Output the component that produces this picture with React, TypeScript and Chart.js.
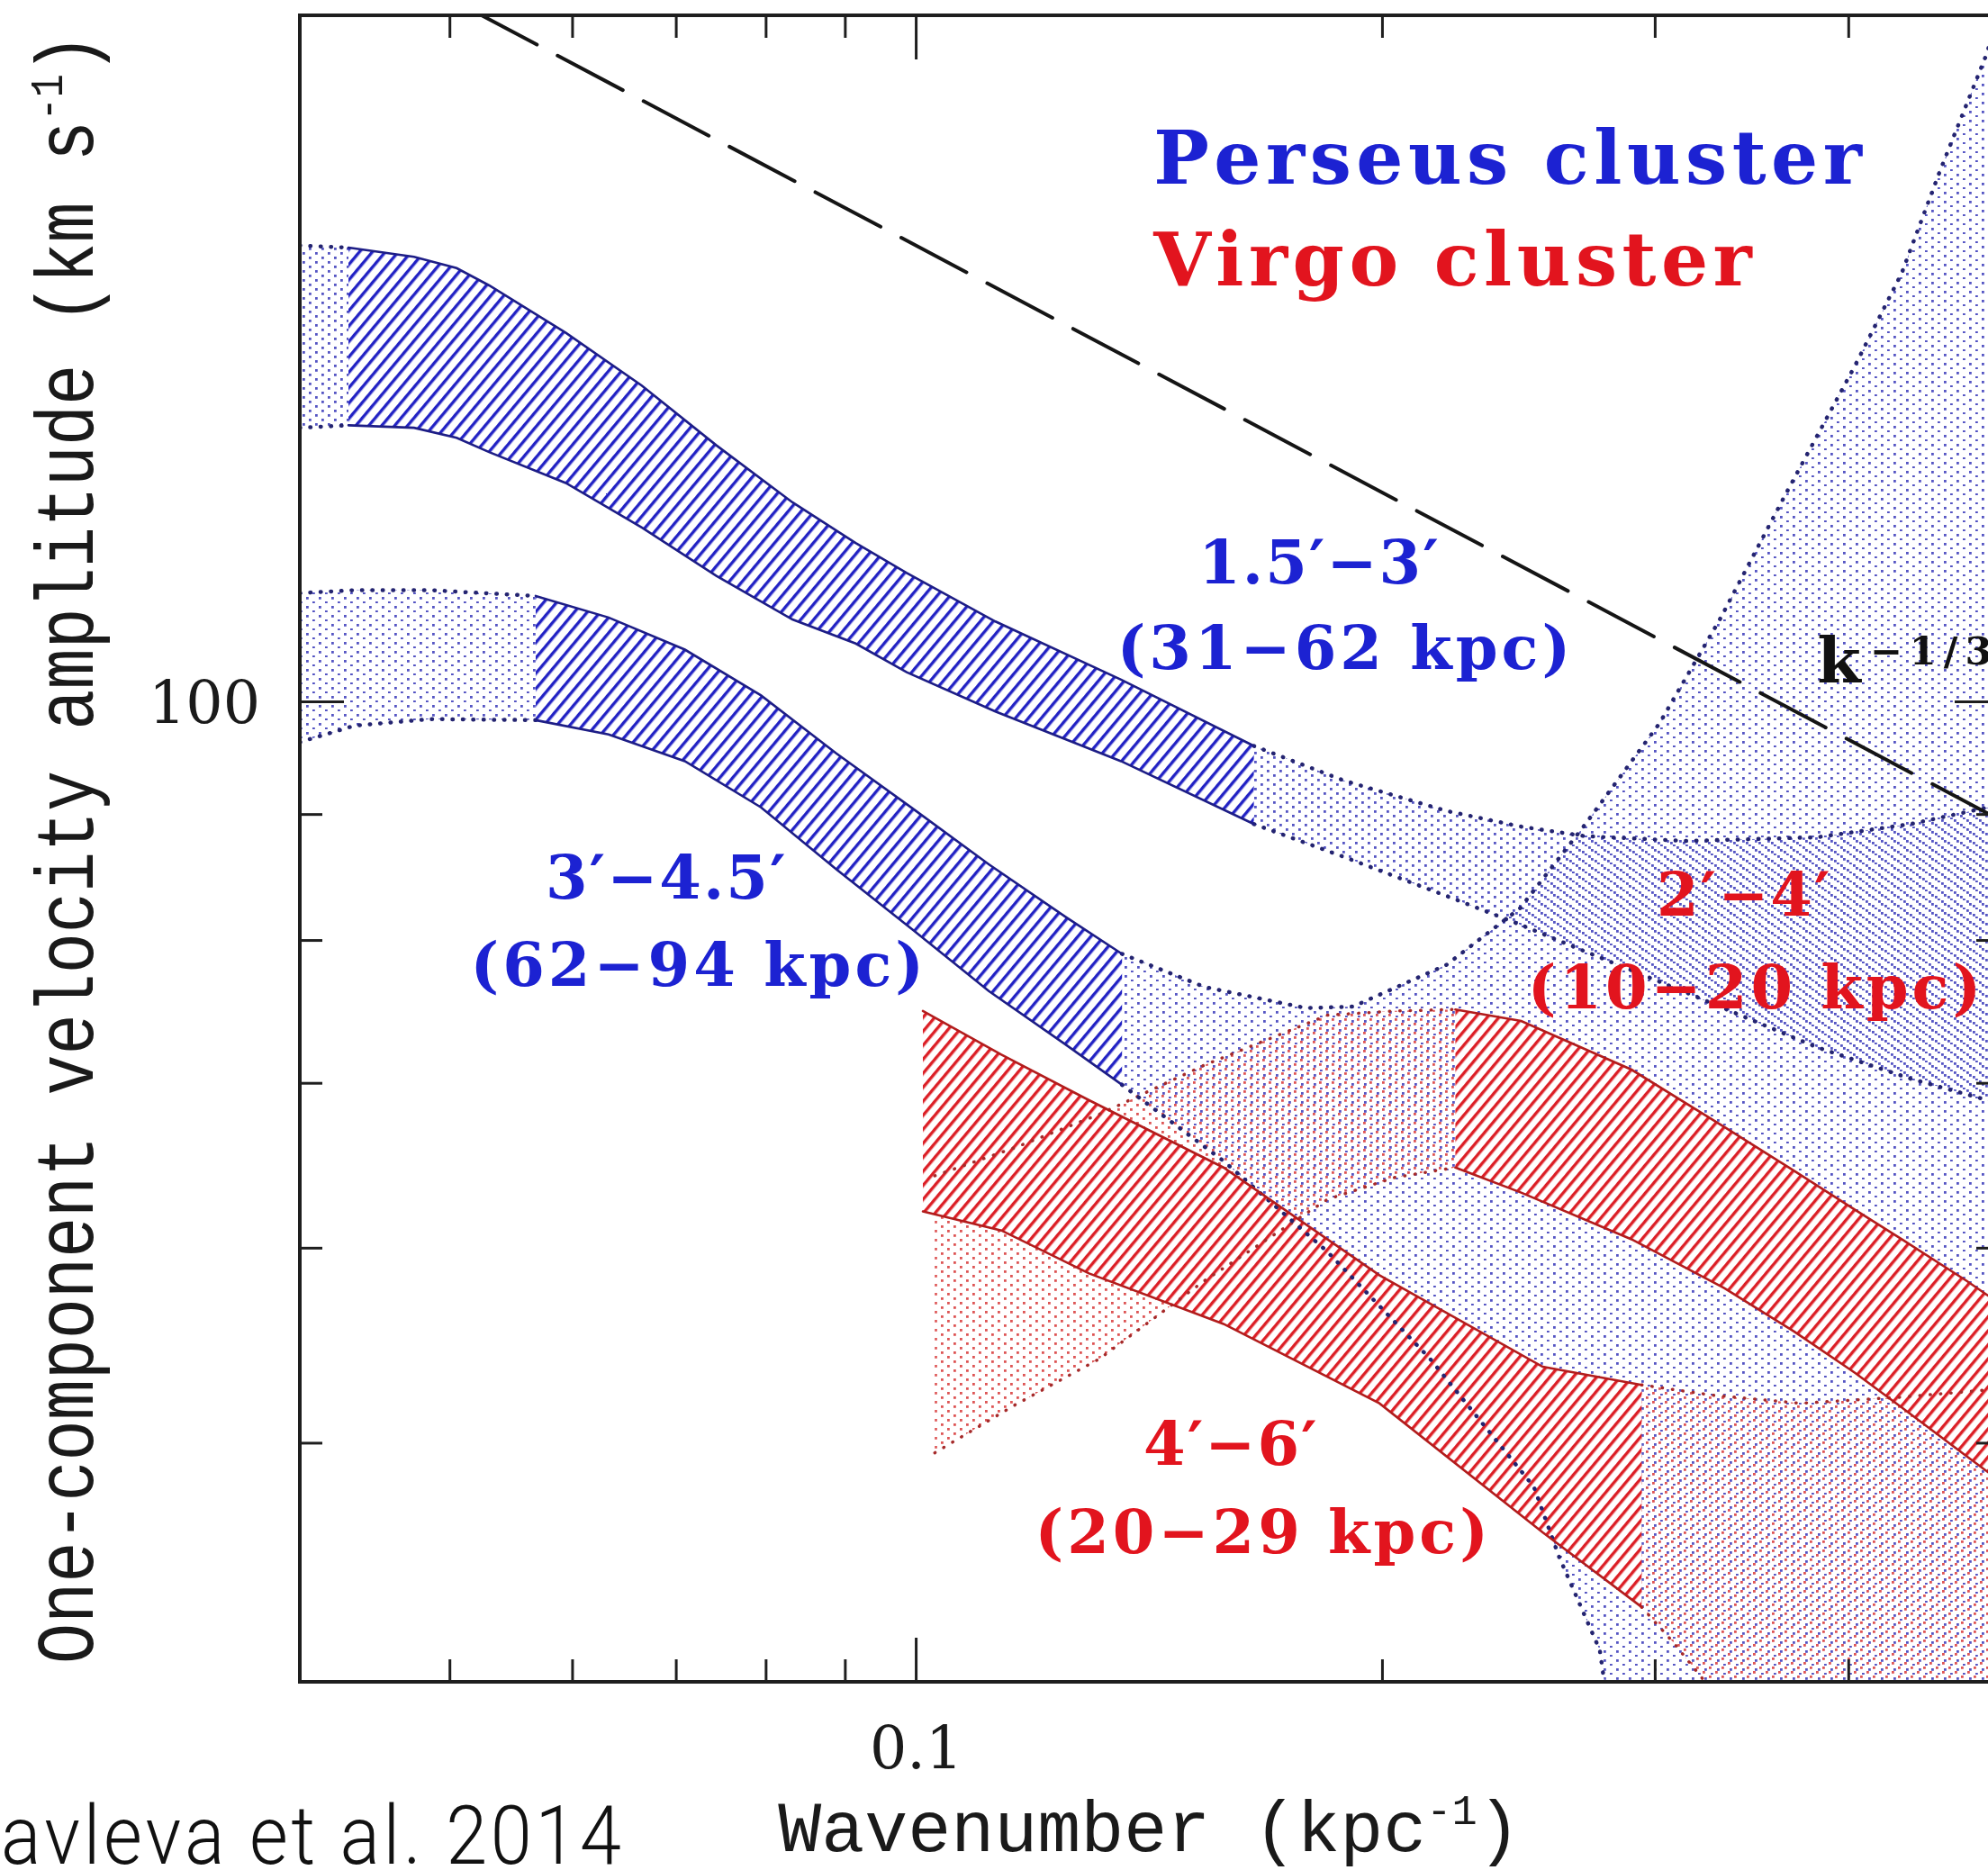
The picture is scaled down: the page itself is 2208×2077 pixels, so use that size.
import React, { useEffect, useRef } from 'react';
import { Chart, registerables } from 'chart.js';

Chart.register(...registerables);

// ---------- axes ----------
const X_MIN = 0.04;
const X_MAX = 0.5;
const Y_MIN = 40;
const Y_MAX = 190;
const xMinorTicks = [0.05, 0.06, 0.07, 0.08, 0.09, 0.2, 0.3, 0.4];
const xMajorTicks = [0.1];
const yMinorTicks = [50, 60, 70, 80, 90];
const yMajorTicks = [100];
const xTickLabels = ['0.1'];
const yTickLabels = ['100'];

// ---------- Perseus 1.5'-3' (31-62 kpc) ----------
const pAHatchX = [0.043, 0.0474, 0.0505, 0.053, 0.0594, 0.0665, 0.0743, 0.0832, 0.0914, 0.0986, 0.1125, 0.1356, 0.1652];
const pAHatchHi = [152.9, 151.6, 150.0, 147.6, 141.2, 134.4, 127.1, 120.5, 116.0, 112.8, 107.8, 102.1, 95.96];
const pAHatchLo = [129.5, 129.2, 128.0, 126.3, 122.7, 117.7, 112.5, 108.0, 105.6, 102.8, 99.1, 94.6, 89.2];
const pALeftX = [0.04, 0.043];
const pALeftHi = [153.2, 152.9];
const pALeftLo = [129.2, 129.5];
const pARightX = [0.1652, 0.1889, 0.22, 0.2454, 0.2701, 0.3141, 0.3815, 0.4386, 0.5];
const pARightHi = [95.96, 92.9, 90.3, 89.0, 88.2, 87.8, 88.1, 89.2, 90.8];
const pARightLo = [89.2, 86.5, 83.4, 81.2, 79.2, 76.2, 72.4, 70.3, 68.7];

// ---------- Perseus 3'-4.5' (62-94 kpc) ----------
const pBLeftX = [0.04, 0.0434, 0.0486, 0.0568];
const pBLeftHi = [110.7, 111.0, 111.0, 110.4];
const pBLeftLo = [96.3, 97.8, 98.4, 98.3];
const pBHatchX = [0.0568, 0.0633, 0.0709, 0.0794, 0.0888, 0.0995, 0.1114, 0.1248, 0.1358];
const pBHatchHi = [110.4, 108.2, 105.0, 100.6, 95.3, 90.5, 85.9, 81.8, 79.0];
const pBHatchLo = [98.3, 97.0, 94.6, 90.6, 85.5, 80.8, 76.3, 72.6, 69.9];
const pBRightHiX = [0.1358, 0.1535, 0.1785, 0.1914, 0.22, 0.2454, 0.2701, 0.3019, 0.3305, 0.3639, 0.4037, 0.4328, 0.458, 0.492, 0.5];
const pBRightHi = [79.0, 76.6, 75.1, 75.2, 78.2, 82.45, 89.1, 98.0, 108.1, 121.3, 136.9, 149.3, 164.2, 183.8, 195];
const pBRightLoX = [0.1358, 0.1579, 0.1843, 0.2147, 0.2505, 0.2601, 0.2763, 0.2807];
const pBRightLo = [69.9, 65.1, 59.8, 54.1, 48.0, 44.95, 41.2, 38.4];

// ---------- Virgo 4'-6' (20-29 kpc) ----------
const vCHatchX = [0.101, 0.1135, 0.1293, 0.1579, 0.1991, 0.2538, 0.294];
const vCHatchHi = [74.9, 71.9, 68.9, 64.7, 58.5, 53.7, 52.8];
const vCHatchLo = [62.1, 61.0, 58.6, 55.9, 51.9, 46.0, 42.9];
const vCRightHiX = [0.294, 0.3262, 0.3723, 0.4328, 0.5];
const vCRightHi = [52.8, 52.3, 51.9, 52.2, 52.6];
const vCRightLoX = [0.294, 0.3082, 0.3231, 0.3355];
const vCRightLo = [42.9, 41.5, 40.0, 38.7];

// ---------- Virgo 2'-4' (10-20 kpc) ----------
const vDLeftX = [0.1028, 0.1157, 0.1313, 0.1535, 0.1843, 0.2037, 0.2229];
const vDLeftHi = [64.2, 65.9, 68.0, 71.2, 74.6, 74.9, 75.0];
const vDLeftLo = [49.55, 51.8, 54.1, 58.2, 62.8, 64.1, 64.7];
const vDHatchX = [0.2229, 0.2458, 0.2896, 0.3324, 0.3688, 0.4037, 0.4328, 0.4765, 0.5];
const vDHatchHi = [75.0, 74.2, 70.9, 67.2, 64.5, 62.2, 60.5, 58.2, 57.0];
const vDHatchLo = [64.7, 63.2, 60.5, 57.8, 55.5, 53.4, 51.7, 49.4, 48.3];

// ---------- k^-1/3 reference line ----------
const kLineX = [0.04, 0.5];
const kLineY = [207.9, 89.6];

// ---------- colours ----------
const BLUE_TEXT = '#1c22d2';
const RED_TEXT = '#e2141e';
const BLUE_LINE = '#1d1d86';
const RED_LINE = '#b21c1c';
const BLUE_DOT = '#242470';
const RED_DOT = '#a52a2a';

type Anno = { text: string; x: number; y: number; color: string; size: number; ls: number; align: 'left' | 'center' | 'right' };
const annotations: Anno[] = [
  { text: 'Perseus cluster', x: 0.1423, y: 162.3, color: BLUE_TEXT, size: 82, ls: 5.5, align: 'left' },
  { text: 'Virgo cluster', x: 0.1423, y: 147.6, color: RED_TEXT, size: 82, ls: 5.5, align: 'left' },
  { text: '1.5\u2032\u22123\u2032', x: 0.1819, y: 111.7, color: BLUE_TEXT, size: 67, ls: 2, align: 'center' },
  { text: '(31\u221262 kpc)', x: 0.1888, y: 103.1, color: BLUE_TEXT, size: 67, ls: 4, align: 'center' },
  { text: '3\u2032\u22124.5\u2032', x: 0.0689, y: 83.2, color: BLUE_TEXT, size: 67, ls: 2, align: 'center' },
  { text: '(62\u221294 kpc)', x: 0.0722, y: 76.7, color: BLUE_TEXT, size: 67, ls: 4, align: 'center' },
  { text: '2\u2032\u22124\u2032', x: 0.342, y: 81.9, color: RED_TEXT, size: 67, ls: 2, align: 'center' },
  { text: '(10\u221220 kpc)', x: 0.3476, y: 75.1, color: RED_TEXT, size: 67, ls: 4, align: 'center' },
  { text: '4\u2032\u22126\u2032', x: 0.1595, y: 49.0, color: RED_TEXT, size: 67, ls: 2, align: 'center' },
  { text: '(20\u221229 kpc)', x: 0.1671, y: 45.1, color: RED_TEXT, size: 67, ls: 4, align: 'center' },
];

const CANVAS_W = 2240;
const CANVAS_H = 2077;

type Seg = { t: string; size: number; rise?: number };

function drawRich(
  ctx: CanvasRenderingContext2D,
  segs: Seg[],
  family: string,
  weight: string,
  x: number,
  y: number,
  align: 'left' | 'center' | 'right',
  color: string,
  sx = 1,
) {
  let total = 0;
  const widths = segs.map((s) => {
    ctx.font = `${weight} ${s.size}px ${family}`;
    const w = ctx.measureText(s.t).width;
    total += w;
    return w;
  });
  ctx.save();
  ctx.translate(x, y);
  ctx.scale(sx, 1);
  let cx = align === 'left' ? 0 : align === 'center' ? -total / 2 : -total;
  ctx.fillStyle = color;
  ctx.textAlign = 'left';
  ctx.textBaseline = 'alphabetic';
  segs.forEach((s, i) => {
    ctx.font = `${weight} ${s.size}px ${family}`;
    ctx.fillText(s.t, cx, -(s.rise || 0));
    cx += widths[i];
  });
  ctx.restore();
}

// text with extra letter spacing, drawn glyph by glyph
function drawSpaced(
  ctx: CanvasRenderingContext2D,
  text: string,
  font: string,
  x: number,
  y: number,
  ls: number,
  align: 'left' | 'center' | 'right',
  color: string,
  sx = 1,
) {
  ctx.save();
  ctx.font = font;
  const chars = Array.from(text);
  const ws = chars.map((c) => ctx.measureText(c).width);
  const total = ws.reduce((s, w) => s + w, 0) + ls * (chars.length - 1);
  ctx.translate(x, y);
  ctx.scale(sx, 1);
  let cx = align === 'left' ? 0 : align === 'center' ? -total / 2 : -total;
  ctx.fillStyle = color;
  ctx.textAlign = 'left';
  ctx.textBaseline = 'alphabetic';
  chars.forEach((c, i) => {
    ctx.fillText(c, cx, 0);
    cx += ws[i] + ls;
  });
  ctx.restore();
}

function makeStipple(color: string, ox: number, oy: number, size = 2.8): CanvasPattern {
  const c = document.createElement('canvas');
  c.width = 14;
  c.height = 10;
  const g = c.getContext('2d')!;
  g.fillStyle = color;
  g.fillRect(ox, oy, size, size);
  g.fillRect((ox + 7) % 14, (oy + 5) % 10, size, size);
  return g.createPattern(c, 'repeat')!;
}

function makeHatch(color: string, spacing: number, lw: number, angleDeg: number): CanvasPattern {
  const c = document.createElement('canvas');
  c.width = 16;
  c.height = spacing;
  const g = c.getContext('2d')!;
  g.fillStyle = '#ffffff';
  g.fillRect(0, 0, 16, spacing);
  g.fillStyle = color;
  g.fillRect(0, 0, 16, lw);
  const p = g.createPattern(c, 'repeat')!;
  p.setTransform(new DOMMatrix().rotate(angleDeg));
  return p;
}

const pts = (xs: number[], ys: number[]) => xs.map((x, i) => ({ x, y: ys[i] }));

function band(xs: number[], hi: number[], lo: number[]) {
  return [...pts(xs, hi), ...pts(xs, lo).reverse()];
}

function openBand(hx: number[], hi: number[], lx: number[], lo: number[]) {
  // closes along the right edge / below the bottom edge of the plot
  return [...pts(hx, hi), { x: X_MAX, y: Y_MIN * 0.9 }, ...pts(lx, lo).reverse()];
}

export default function App() {
  const ref = useRef<HTMLCanvasElement>(null);

  useEffect(() => {
    document.body.style.margin = '0';
    document.body.style.overflow = 'hidden';
    const canvas = ref.current!;

    const BST = 'rgba(55,55,185,0.85)';
    const RST = 'rgba(215,55,55,0.85)';
    const blueSt1 = makeStipple(BST, 0, 0);
    const blueSt2 = makeStipple(BST, 4, 3);
    const blueSt3 = makeStipple(BST, 10, 8);
    const redSt1 = makeStipple(RST, 2, 6);
    const redSt2 = makeStipple(RST, 8, 1);
    const blueHatch = makeHatch('#2222c4', 11, 3.4, -50);
    const redHatch = makeHatch('#dc1f26', 10.5, 3.4, -50);

    const fillDs = (data: any[], bg: any, order: number) => ({
      data,
      fill: 'shape',
      backgroundColor: bg,
      borderColor: 'rgba(0,0,0,0)',
      borderWidth: 1,
      pointRadius: 0,
      tension: 0,
      order,
    });
    const edge = (xs: number[], ys: number[], color: string, width: number, dash: number[], order: number) => ({
      data: pts(xs, ys),
      fill: false,
      borderColor: color,
      borderWidth: width,
      borderDash: dash,
      borderCapStyle: 'round',
      pointRadius: 0,
      tension: 0,
      order,
    });
    const DOTS = [0.5, 11];
    const SOLID: number[] = [];

    const datasets: any[] = [
      // stipple (unreliable) ranges
      fillDs(band(pALeftX, pALeftHi, pALeftLo), blueSt1, 100),
      fillDs(band(pARightX, pARightHi, pARightLo), blueSt1, 100),
      fillDs(band(pBLeftX, pBLeftHi, pBLeftLo), blueSt2, 100),
      fillDs(openBand(pBRightHiX, pBRightHi, pBRightLoX, pBRightLo), blueSt3, 100),
      fillDs(band(vDLeftX, vDLeftHi, vDLeftLo), redSt1, 100),
      fillDs(openBand(vCRightHiX, vCRightHi, vCRightLoX, vCRightLo), redSt2, 100),
      // hatched (reliable) ranges
      fillDs(band(pAHatchX, pAHatchHi, pAHatchLo), blueHatch, 50),
      fillDs(band(pBHatchX, pBHatchHi, pBHatchLo), blueHatch, 50),
      fillDs(band(vCHatchX, vCHatchHi, vCHatchLo), redHatch, 50),
      fillDs(band(vDHatchX, vDHatchHi, vDHatchLo), redHatch, 50),
      // solid edges
      edge(pAHatchX, pAHatchHi, BLUE_LINE, 2.6, SOLID, 10),
      edge(pAHatchX, pAHatchLo, BLUE_LINE, 2.6, SOLID, 10),
      edge(pBHatchX, pBHatchHi, BLUE_LINE, 2.6, SOLID, 10),
      edge(pBHatchX, pBHatchLo, BLUE_LINE, 2.6, SOLID, 10),
      edge(vCHatchX, vCHatchHi, RED_LINE, 2.6, SOLID, 10),
      edge(vCHatchX, vCHatchLo, RED_LINE, 2.6, SOLID, 10),
      edge(vDHatchX, vDHatchHi, RED_LINE, 2.6, SOLID, 10),
      edge(vDHatchX, vDHatchLo, RED_LINE, 2.6, SOLID, 10),
      // dotted edges
      edge(pALeftX, pALeftHi, BLUE_DOT, 4.5, DOTS, 10),
      edge(pALeftX, pALeftLo, BLUE_DOT, 4.5, DOTS, 10),
      edge(pARightX, pARightHi, BLUE_DOT, 4.5, DOTS, 10),
      edge(pARightX, pARightLo, BLUE_DOT, 4.5, DOTS, 10),
      edge(pBLeftX, pBLeftHi, BLUE_DOT, 4.5, DOTS, 10),
      edge(pBLeftX, pBLeftLo, BLUE_DOT, 4.5, DOTS, 10),
      edge(pBRightHiX, pBRightHi, BLUE_DOT, 4.5, DOTS, 10),
      edge(pBRightLoX, pBRightLo, BLUE_DOT, 4.5, DOTS, 10),
      edge(vDLeftX, vDLeftHi, RED_DOT, 3.5, DOTS, 10),
      edge(vDLeftX, vDLeftLo, RED_DOT, 3.5, DOTS, 10),
      edge(vCRightHiX, vCRightHi, RED_DOT, 3.5, DOTS, 10),
      edge(vCRightLoX, vCRightLo, RED_DOT, 3.5, DOTS, 10),
      // k^-1/3
      edge(kLineX, kLineY, '#151515', 4, [82, 26], 5),
    ];

    const decor = {
      id: 'decor',
      afterDatasetsDraw(chart: any) {
        const { ctx, chartArea: a, scales } = chart;
        const xs = scales.x;
        const ys = scales.y;
        ctx.save();
        // frame
        ctx.strokeStyle = '#1e1e1e';
        ctx.lineWidth = 4;
        ctx.strokeRect(a.left, a.top, a.right - a.left, a.bottom - a.top);
        // ticks
        ctx.lineWidth = 3;
        const seg = (x1: number, y1: number, x2: number, y2: number) => {
          ctx.beginPath();
          ctx.moveTo(x1, y1);
          ctx.lineTo(x2, y2);
          ctx.stroke();
        };
        const xt = (vals: number[], len: number) =>
          vals.forEach((v) => {
            const p = xs.getPixelForValue(v);
            seg(p, a.bottom, p, a.bottom - len);
            seg(p, a.top, p, a.top + len);
          });
        const yt = (vals: number[], len: number) =>
          vals.forEach((v) => {
            const p = ys.getPixelForValue(v);
            seg(a.left, p, a.left + len, p);
            seg(a.right, p, a.right - len, p);
          });
        xt(xMinorTicks, 25);
        xt(xMajorTicks, 49);
        yt(yMinorTicks, 25);
        yt(yMajorTicks, 49);

        // tick labels
        ctx.fillStyle = '#1a1a1a';
        ctx.font = '65px "DejaVu Serif"';
        ctx.textBaseline = 'alphabetic';
        ctx.textAlign = 'center';
        xMajorTicks.forEach((v, i) => ctx.fillText(xTickLabels[i], xs.getPixelForValue(v), a.bottom + 96));
        ctx.textAlign = 'right';
        yMajorTicks.forEach((v, i) => ctx.fillText(yTickLabels[i], a.left - 44, ys.getPixelForValue(v) + 24));

        // axis titles
        drawRich(
          ctx,
          [
            { t: 'Wavenumber (kpc', size: 80 },
            { t: '-1', size: 47, rise: 30 },
            { t: ')', size: 80 },
          ],
          '"Liberation Mono"',
          'normal',
          (a.left + a.right) / 2,
          a.bottom + 188,
          'center',
          '#1a1a1a',
        );
        ctx.save();
        ctx.translate(77, (a.top + a.bottom) / 2);
        ctx.rotate(-Math.PI / 2);
        drawRich(
          ctx,
          [
            { t: 'One-component velocity amplitude (km s', size: 90 },
            { t: '-1', size: 52, rise: 34 },
            { t: ')', size: 90 },
          ],
          '"Liberation Mono"',
          'normal',
          0,
          26,
          'center',
          '#1a1a1a',
          0.835,
        );
        ctx.restore();

        // annotations
        annotations.forEach((an) => {
          drawSpaced(
            ctx,
            an.text,
            `bold ${an.size}px "DejaVu Serif"`,
            xs.getPixelForValue(an.x),
            ys.getPixelForValue(an.y),
            an.ls,
            an.align,
            an.color,
          );
        });

        // k^-1/3 label
        const kx = xs.getPixelForValue(0.3817);
        const ky = ys.getPixelForValue(101.8);
        ctx.font = 'bold 70px "DejaVu Serif"';
        const kw = ctx.measureText('k').width;
        drawRich(ctx, [{ t: 'k', size: 70 }], '"DejaVu Serif"', 'bold', kx, ky, 'left', '#111');
        drawSpaced(ctx, '\u22121/3', 'bold 43px "DejaVu Serif"', kx + kw + 10, ky - 20, 8, 'left', '#111');

        // citation
        drawSpaced(ctx, 'Zhuravleva et al. 2014', '300 90px Roboto', 690, 2070, 4, 'right', '#111', 0.92);
        ctx.restore();
      },
    };

    const chart = new Chart(canvas, {
      type: 'line',
      data: { datasets },
      options: {
        animation: false,
        responsive: false,
        devicePixelRatio: 1,
        layout: { padding: { left: 333, top: 17, right: CANVAS_W - 2220, bottom: CANVAS_H - 1868 } },
        scales: {
          x: { type: 'logarithmic', min: X_MIN, max: X_MAX, display: false },
          y: { type: 'logarithmic', min: Y_MIN, max: Y_MAX, display: false },
        },
        plugins: { legend: { display: false }, tooltip: { enabled: false } },
        elements: { point: { radius: 0 } },
      },
      plugins: [decor],
    } as any);
    return () => chart.destroy();
  }, []);

  return (
    <div
      style={{
        position: 'absolute',
        left: 0,
        top: 0,
        width: 2208,
        height: 2077,
        overflow: 'hidden',
        background: '#ffffff',
      }}
    >
      <canvas ref={ref} width={CANVAS_W} height={CANVAS_H} style={{ display: 'block', width: CANVAS_W, height: CANVAS_H }} />
    </div>
  );
}
